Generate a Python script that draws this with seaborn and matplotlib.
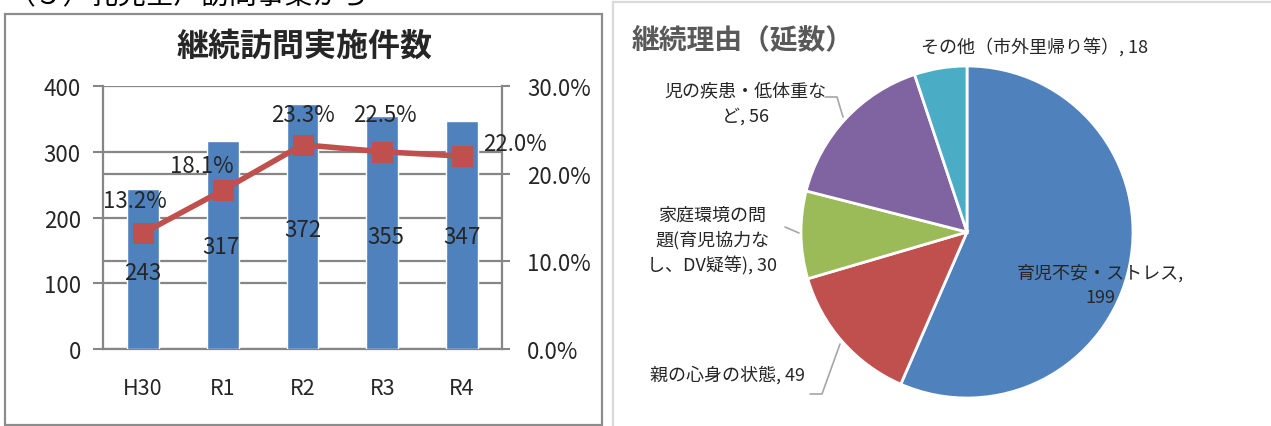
import numpy as np
import matplotlib
matplotlib.use("Agg")
import matplotlib.pyplot as plt
import matplotlib.patches as mpatches
from matplotlib.ticker import FixedLocator, FuncFormatter
import seaborn as sns

# ---------------- data ----------------
years = ["H30", "R1", "R2", "R3", "R4"]
visits = [243, 317, 372, 355, 347]
rates = [0.132, 0.181, 0.233, 0.225, 0.220]
count_ticks = [0, 100, 200, 300, 400]
rate_ticks = [0.0, 0.1, 0.2, 0.3]

reasons = ["育児不安・ストレス", "親の心身の状態", "家庭環境の問題(育児協力なし、DV疑等)",
           "児の疾患・低体重など", "その他（市外里帰り等）"]
reason_counts = [199, 49, 30, 56, 18]
reason_labels = ["育児不安・ストレス,\n199", "親の心身の状態, 49",
                 "家庭環境の問\n題(育児協力な\nし、DV疑等), 30",
                 "児の疾患・低体重な\nど, 56", "その他（市外里帰り等）, 18"]

left_title = "継続訪問実施件数"
right_title = "継続理由（延数）"
header = "（５）乳児全戸訪問事業から"

# ---------------- style ----------------
sns.set_style("white")
plt.rcParams["font.family"] = ["Noto Sans CJK JP", "DejaVu Sans"]

W, H = 1271, 427
fig = plt.figure(figsize=(W / 100, H / 100), dpi=100)


def fx(x):
    return x / W


def fy(y):
    return 1 - y / H


GRID = "#868686"
BLUE = "#4F81BD"
RED = "#C0504D"
pie_colors = ["#4F81BD", "#C0504D", "#9BBB59", "#8064A2", "#4BACC6"]

# panel borders
fig.patches.append(mpatches.Rectangle((fx(5), fy(426)), fx(602) - fx(5), fy(15) - fy(426),
                                      transform=fig.transFigure, fill=False,
                                      edgecolor="#8c8c8c", lw=1.6))
fig.patches.append(mpatches.Rectangle((fx(613), fy(440)), fx(1290) - fx(613), fy(3) - fy(440),
                                      transform=fig.transFigure, fill=False,
                                      edgecolor="#d9d9d9", lw=1.6))

# clipped header text at the very top
fig.text(fx(8), fy(-4), header, fontsize=20, va="center", ha="left", color="black")

# ---------------- left: bar + line ----------------
ax = fig.add_axes([fx(103), fy(350), fx(502) - fx(103), fy(87) - fy(350)])
df_counts = {"year": years, "visits": visits}
sns.barplot(x=df_counts["year"], y=df_counts["visits"], color=BLUE, width=0.4,
            saturation=1, ax=ax, zorder=3)
ax.set_xlim(-0.5, len(years) - 0.5)
ax.set_ylim(count_ticks[0], count_ticks[-1])
ax.set_yticks(count_ticks)
ax.set_ylabel("")
ax.set_xlabel("")

# secondary-axis gridlines expressed on primary scale
ratio = count_ticks[-1] / rate_ticks[-1]
ax.yaxis.set_minor_locator(FixedLocator([t * ratio for t in rate_ticks]))
ax.yaxis.grid(True, which="major", color=GRID, lw=1.6, zorder=0)
ax.yaxis.grid(True, which="minor", color=GRID, lw=1.6, zorder=0)
ax.set_axisbelow(True)
ax.tick_params(axis="y", which="minor", length=0)
ax.tick_params(axis="y", which="major", length=7, width=1.5, color=GRID,
               direction="out", labelsize=16, pad=9)
ax.xaxis.set_minor_locator(FixedLocator(np.arange(-0.5, len(years), 1.0)))
ax.tick_params(axis="x", which="major", length=0, labelsize=15.5, pad=20)
ax.tick_params(axis="x", which="minor", length=5, width=1.5, color=GRID, direction="out")
for s in ["top", "right"]:
    ax.spines[s].set_visible(False)
for s in ["left", "bottom"]:
    ax.spines[s].set_color(GRID)
    ax.spines[s].set_linewidth(1.6)

ax2 = ax.twinx()
sns.lineplot(x=np.arange(len(years)), y=rates, ax=ax2, color=RED, lw=4,
             marker="s", markersize=14.5, markeredgecolor=RED, markerfacecolor=RED)
ax2.set_ylim(rate_ticks[0], rate_ticks[-1])
ax2.set_yticks(rate_ticks)
ax2.yaxis.set_major_formatter(FuncFormatter(lambda v, p: f"{v * 100:.1f}%"))
ax2.tick_params(axis="y", length=6, width=1.5, color=GRID, direction="out",
                labelsize=16, pad=12)
for s in ["top", "left", "bottom"]:
    ax2.spines[s].set_visible(False)
ax2.spines["right"].set_color(GRID)
ax2.spines["right"].set_linewidth(1.6)
ax2.grid(False)

# data labels (offsets in pixels)
rate_offsets = [(-8, 33), (-21, 25), (0, 30), (3, 37), (53, 13)]
count_offsets = [(0, -39), (-2, -56), (0, -85), (3, -85), (0, -80)]
for i, (r, c) in enumerate(zip(rates, visits)):
    dx, dy = rate_offsets[i]
    ax2.annotate(f"{r * 100:.1f}%", (i, r), xytext=(dx * 0.72, dy * 0.72),
                 textcoords="offset points", ha="center", va="center", fontsize=16)
    dx, dy = count_offsets[i]
    ax2.annotate(f"{c}", (i, r), xytext=(dx * 0.72, dy * 0.72),
                 textcoords="offset points", ha="center", va="center", fontsize=16)

fig.text(fx(305), fy(47), left_title, fontsize=23, fontweight="bold",
         ha="center", va="center")

# ---------------- right: pie ----------------
cx, cy, R = 967, 233, 166
pax = fig.add_axes([fx(cx - R), fy(cy + R), fx(2 * R), fy(cy - R) - fy(cy + R)])
pax.pie(reason_counts, colors=pie_colors, startangle=90, counterclock=False,
        radius=1.0, wedgeprops=dict(edgecolor="white", linewidth=2))
pax.set_xlim(-1, 1)
pax.set_ylim(-1, 1)
pax.set_aspect("auto")
pax.axis("off")


def p2d(px, py):
    return ((px - cx) / R, (cy - py) / R)


label_pos = [(1100, 286), (728, 375), (712, 241), (745, 104), (1035, 47)]
for lab, (px, py) in zip(reason_labels, label_pos):
    x, y = p2d(px, py)
    pax.text(x, y, lab, fontsize=13, ha="center", va="center",
             linespacing=1.45, clip_on=False)

# leader lines (pixel anchors)
leaders = [
    [(825, 98), (837, 98), (843, 118)],
    [(785, 228), (799, 234)],
    [(810, 395), (822, 395), (840, 345)],
]
for pts in leaders:
    xs, ys = zip(*[p2d(a, b) for a, b in pts])
    pax.plot(xs, ys, color="#a6a6a6", lw=1.2, clip_on=False)

fig.text(fx(632), fy(40), right_title, fontsize=20, fontweight="bold",
         color="#595959", ha="left", va="center")

fig.savefig("out.png", dpi=100)
